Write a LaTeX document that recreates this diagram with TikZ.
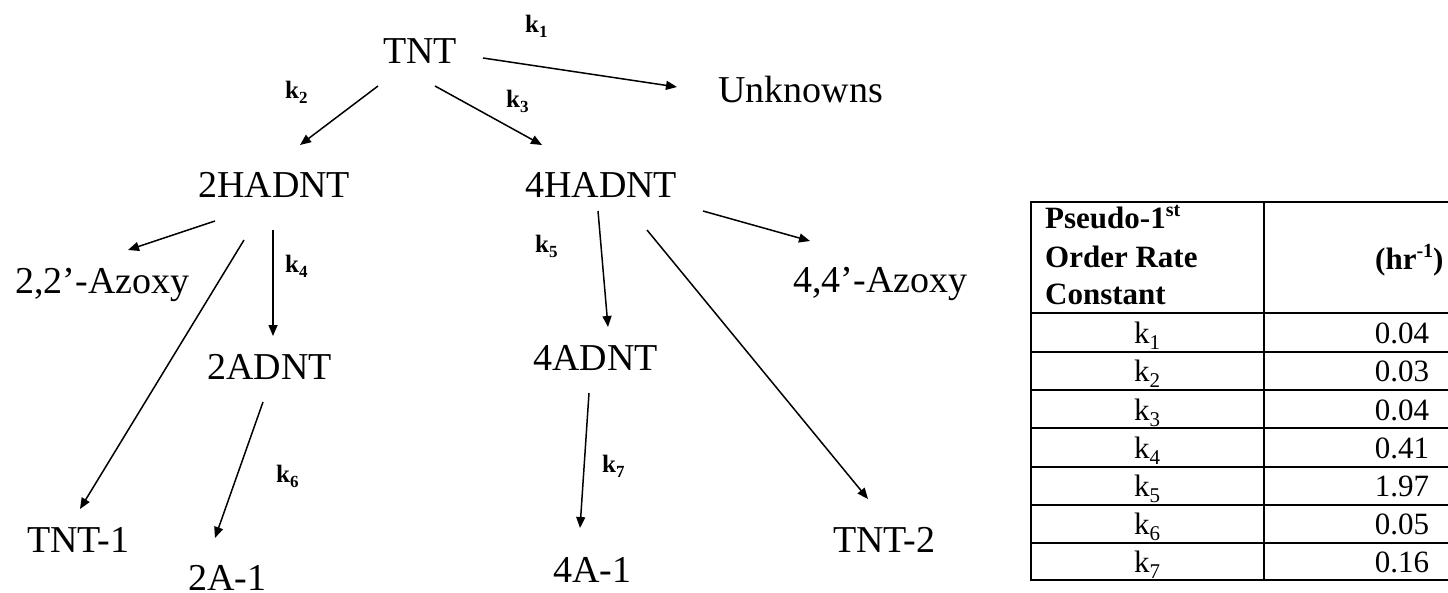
\documentclass[tikz,border=0pt]{standalone}
\usepackage{fontspec}
\setmainfont{Liberation Serif}
\usetikzlibrary{arrows.meta,calc}
\newcommand{\klab}[1]{k\raisebox{-5pt}{\fontsize{17}{17}\selectfont #1}}
\newcommand{\kcell}[1]{k\raisebox{-6pt}{\fontsize{21}{21}\selectfont #1}}
\newcommand{\supr}[1]{\raisebox{12pt}{\fontsize{20}{20}\selectfont #1}}
\begin{document}
\begin{tikzpicture}[x=1pt,y=-1pt,
  chem/.style={anchor=base west,inner sep=0pt,font=\fontsize{38}{44}\selectfont},
  klb/.style={anchor=base west,inner sep=0pt,font=\fontsize{25}{30}\selectfont\bfseries},
  rx/.style={line width=1.5pt,-{Triangle[length=11pt,width=9pt]}},
  tline/.style={line width=2pt},
  tcell/.style={anchor=base,inner sep=0pt,font=\fontsize{31}{37}\selectfont},
  thead/.style={anchor=base west,inner sep=0pt,font=\fontsize{31}{37}\selectfont\bfseries}]
\useasboundingbox (0,0) rectangle (1448,592);
\clip (0,0) rectangle (1448,592);
% species
\node[chem] (tnt)  at (383,63)  {TNT};
\node[chem] (unk)  at (718,102) {Unknowns};
\node[chem] (h2)   at (198,197) {2HADNT};
\node[chem] (h4)   at (525,197) {4HADNT};
\node[chem] (az2)  at (15,293)  {2,2’-Azoxy};
\node[chem] (a2)   at (207,379) {2ADNT};
\node[chem] (tnt1) at (27,552)  {TNT-1};
\node[chem] (a21)  at (188,590) {2A-1};
\node[chem] (az4)  at (793,292) {4,4’-Azoxy};
\node[chem] (a4)   at (533,370) {4ADNT};
\node[chem] (a41)  at (553,582) {4A-1};
\node[chem] (tnt2) at (833,552) {TNT-2};
% rate labels
\node[klb] (k1) at (525,32)  {\klab{1}};
\node[klb] (k2) at (285,98)  {\klab{2}};
\node[klb] (k3) at (506,107) {\klab{3}};
\node[klb] (k4) at (285,272) {\klab{4}};
\node[klb] (k5) at (535,252) {\klab{5}};
\node[klb] (k6) at (276,482) {\klab{6}};
\node[klb] (k7) at (602,472) {\klab{7}};
% reactions
\draw[rx] ($(tnt.base west)+(100,-5)$) -- ($(unk.base west)+(-41,-15)$);
\draw[rx] ($(tnt.base west)+(-5,23)$) -- ($(h2.base west)+(102,-52)$);
\draw[rx] ($(tnt.base west)+(52,23)$) -- ($(h4.base west)+(17,-52)$);
\draw[rx] ($(h2.base west)+(17,24)$) -- ($(az2.base west)+(113,-43)$);
\draw[rx] ($(h2.base west)+(46,43)$) -- ($(tnt1.base west)+(53,-43)$);
\draw[rx] ($(h2.base west)+(75,33)$) -- ($(a2.base west)+(66,-43)$);
\draw[rx] ($(a2.base west)+(56,23)$) -- ($(a21.base west)+(27,-52)$);
\draw[rx] ($(h4.base west)+(73,14)$) -- ($(a4.base west)+(75,-43)$);
\draw[rx] ($(h4.base west)+(178,14)$) -- ($(az4.base west)+(17,-51)$);
\draw[rx] ($(h4.base west)+(122,33)$) -- ($(tnt2.base west)+(35,-53)$);
\draw[rx] ($(a4.base west)+(56,23)$) -- ($(a41.base west)+(27,-54)$);
% table
\draw[tline] (1031,202) rectangle (1546,580);
\draw[tline] (1264,202) -- (1264,580);
\foreach \yy in {313,352,390,428,467,505,543}
  \draw[tline] (1031,\yy) -- (1546,\yy);
\node[thead] (th1) at (1045,228) {Pseudo-1\supr{st}};
\node[thead] (th2) at (1045,267) {Order Rate};
\node[thead] (th3) at (1045,304) {Constant};
\node[thead] (thu) at (1375,269) {(hr\supr{-1})};
\node[tcell] (r1k) at (1147,343) {\kcell{1}}; \node[tcell] (r1v) at (1402,343) {0.04};
\node[tcell] (r2k) at (1147,381) {\kcell{2}}; \node[tcell] (r2v) at (1402,381) {0.03};
\node[tcell] (r3k) at (1147,420) {\kcell{3}}; \node[tcell] (r3v) at (1402,420) {0.04};
\node[tcell] (r4k) at (1147,458) {\kcell{4}}; \node[tcell] (r4v) at (1402,458) {0.41};
\node[tcell] (r5k) at (1147,496) {\kcell{5}}; \node[tcell] (r5v) at (1402,496) {1.97};
\node[tcell] (r6k) at (1147,534) {\kcell{6}}; \node[tcell] (r6v) at (1402,534) {0.05};
\node[tcell] (r7k) at (1147,572) {\kcell{7}}; \node[tcell] (r7v) at (1402,572) {0.16};
\end{tikzpicture}
\end{document}
